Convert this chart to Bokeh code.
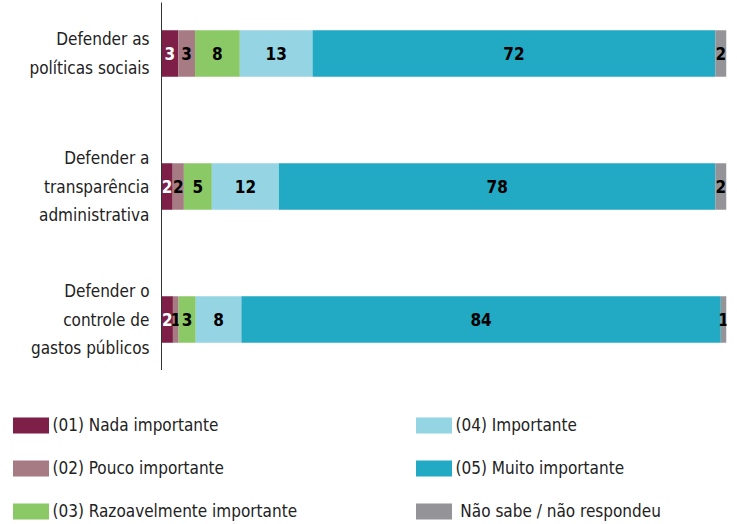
import numpy as np
from bokeh.plotting import figure
from bokeh.layouts import column
from bokeh.models import ColumnDataSource, FactorRange, Range1d, Legend, LegendItem
from bokeh.core.properties import value
from bokeh.embed import file_html
from bokeh.resources import INLINE

categories = ["Defender as\npolíticas sociais",
              "Defender a\ntransparência\nadministrativa",
              "Defender o\ncontrole de\ngastos públicos"]
series = ["(01) Nada importante", "(02) Pouco importante",
          "(03) Razoavelmente importante", "(04) Importante",
          "(05) Muito importante", " Não sabe / não respondeu"]
nada = [3, 2, 2]
pouco = [3, 2, 1]
razoavel = [8, 5, 3]
importante = [13, 12, 8]
muito = [72, 78, 84]
nao_sabe = [2, 2, 1]
colors = ["#7d1f47", "#a77b83", "#8bc866", "#94d4e3", "#22a9c4", "#949498"]
label_colors = ["white", "black", "black", "black", "black", "black"]

FONT = "'Liberation Sans Narrow', 'DejaVu Sans Condensed', 'Open Sans', sans-serif"

values = np.array([nada, pouco, razoavel, importante, muito, nao_sabe], dtype=float)
totals = values.sum(axis=0)
widths = values / totals * 100.0
lefts = np.vstack([np.zeros(3), np.cumsum(widths, axis=0)[:-1]])
rights = lefts + widths

p = figure(width=737, height=370, output_backend="svg", toolbar_location=None,
           y_range=FactorRange(factors=categories[::-1], range_padding=-0.0777),
           x_range=Range1d(0, 100), frame_align=False,
           min_border_left=161, min_border_right=11, min_border_top=2,
           min_border_bottom=0)
p.outline_line_color = None
p.xgrid.visible = False
p.ygrid.visible = False
p.xaxis.visible = False
p.yaxis.major_tick_line_color = None
p.yaxis.minor_tick_line_color = None
p.yaxis.axis_line_color = "#333333"
p.yaxis.major_label_text_font = FONT
p.yaxis.major_label_text_font_size = "17px"
p.yaxis.major_label_text_color = "#222222"
p.yaxis.major_label_text_line_height = 1.42
p.yaxis.major_label_standoff = 6
p.yaxis.major_label_text_align = "right"

# legend-only figure: same data, but its x-range shows none of the bars
q = figure(width=737, height=154, output_backend="svg", toolbar_location=None,
           x_range=Range1d(-2, -1), y_range=FactorRange(factors=categories[::-1]),
           frame_align=False,
           min_border_left=0, min_border_right=0, min_border_top=0,
           min_border_bottom=0)
q.outline_line_color = None
q.axis.visible = False
q.grid.visible = False

items = []
for i, name in enumerate(series):
    src = ColumnDataSource(dict(y=categories, left=lefts[i], right=rights[i],
                                xc=(lefts[i] + rights[i]) / 2,
                                lab=[str(int(v)) for v in values[i]]))
    p.hbar(y="y", left="left", right="right", height=0.35, source=src,
           fill_color=colors[i], line_color=None)
    p.text(x="xc", y="y", text="lab", source=src, text_align="center",
           text_baseline="middle", text_font=value(FONT), text_font_style="bold",
           text_font_size="17px", text_color=label_colors[i])
    r = q.hbar(y="y", left="left", right="right", height=0.35, source=src,
               fill_color=colors[i], line_color=None)
    items.append(LegendItem(label=name, renderers=[r]))

legend = Legend(items=items, orientation="vertical", nrows=3,
                location=(7.5, 3), padding=0, margin=0, spacing=23,
                glyph_width=45, glyph_height=20, label_height=20,
                label_standoff=-3, label_width=335,
                label_text_font=FONT, label_text_font_size="17px",
                label_text_color="#222222",
                border_line_color=None, background_fill_alpha=0)
q.add_layout(legend, "center")

open("out.html", "w").write(file_html(column(p, q), INLINE))
